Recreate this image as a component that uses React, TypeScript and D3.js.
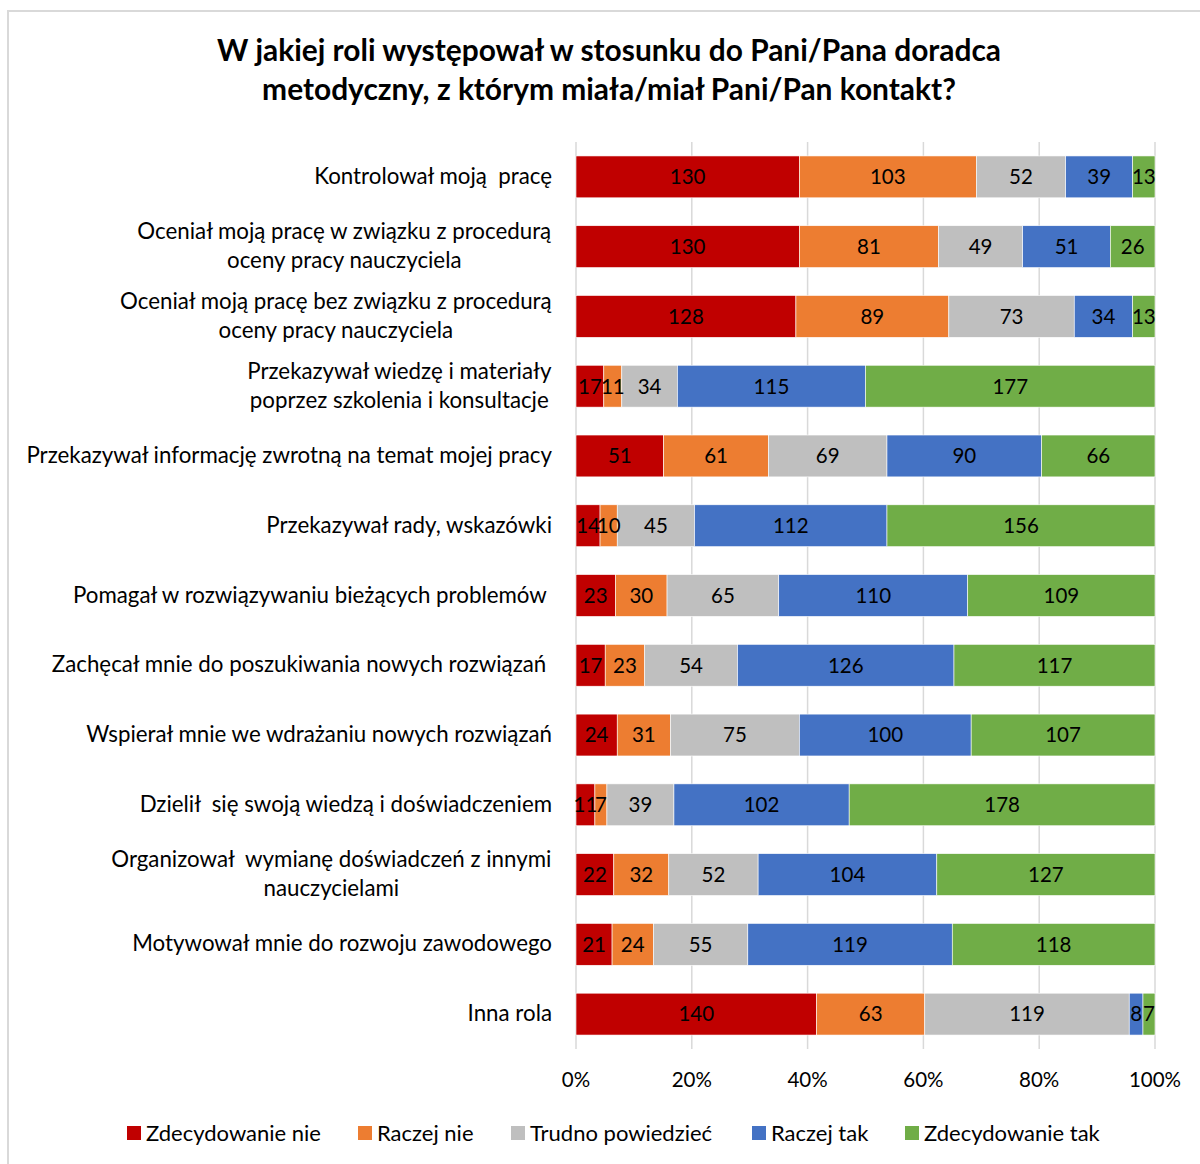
import React from "react";
import * as d3 from "d3";

const categories: string[][] = [
  ["Kontrolował moją  pracę"],
  ["Oceniał moją pracę w związku z procedurą", "oceny pracy nauczyciela"],
  ["Oceniał moją pracę bez związku z procedurą", "oceny pracy nauczyciela"],
  ["Przekazywał wiedzę i materiały", "poprzez szkolenia i konsultacje"],
  ["Przekazywał informację zwrotną na temat mojej pracy"],
  ["Przekazywał rady, wskazówki"],
  ["Pomagał w rozwiązywaniu bieżących problemów "],
  ["Zachęcał mnie do poszukiwania nowych rozwiązań "],
  ["Wspierał mnie we wdrażaniu nowych rozwiązań"],
  ["Dzielił  się swoją wiedzą i doświadczeniem"],
  ["Organizował  wymianę doświadczeń z innymi", "nauczycielami"],
  ["Motywował mnie do rozwoju zawodowego"],
  ["Inna rola"],
];

const seriesNames = ["Zdecydowanie nie", "Raczej nie", "Trudno powiedzieć", "Raczej tak", "Zdecydowanie tak"];
const seriesColors = ["#C00000", "#ED7D31", "#BFBFBF", "#4472C4", "#70AD47"];

const zdecydowanieNie = [130, 130, 128, 17, 51, 14, 23, 17, 24, 11, 22, 21, 140];
const raczejNie = [103, 81, 89, 11, 61, 10, 30, 23, 31, 7, 32, 24, 63];
const trudnoPowiedziec = [52, 49, 73, 34, 69, 45, 65, 54, 75, 39, 52, 55, 119];
const raczejTak = [39, 51, 34, 115, 90, 112, 110, 126, 100, 102, 104, 119, 8];
const zdecydowanieTak = [13, 26, 13, 177, 66, 156, 109, 117, 107, 178, 127, 118, 7];

const tickValues = [0, 0.2, 0.4, 0.6, 0.8, 1.0];
const title = [
  "W jakiej roli występował w stosunku do Pani/Pana doradca",
  "metodyczny, z którym miała/miał Pani/Pan kontakt?",
];

const FONT = "Lato, 'Open Sans', sans-serif";
const LABEL_SIZE = 22.3;

let measureCtx: CanvasRenderingContext2D | null = null;
function measure(text: string, size: number): number {
  if (!measureCtx) {
    const c = document.createElement("canvas");
    measureCtx = c.getContext("2d");
  }
  if (!measureCtx) return text.length * size * 0.5;
  measureCtx.font = `${size}px Lato`;
  return measureCtx.measureText(text).width;
}

export default function App() {
  const W = 1200;
  const H = 1164;
  const x0 = 576;
  const x1 = 1155;
  const yTop = 142;
  const yBot = 1049;
  const labelRight = 552;

  const series = [zdecydowanieNie, raczejNie, trudnoPowiedziec, raczejTak, zdecydowanieTak];
  const idx = categories.map((_, i) => i);

  const x = d3.scaleLinear().domain([0, 1]).range([x0, x1]);
  const y = d3.scaleBand<number>().domain(idx).range([yTop, yBot]).paddingInner(0.4).paddingOuter(0.2);

  const rows = idx.map((i) => {
    const vals = series.map((s) => s[i]);
    const total = d3.sum(vals);
    let acc = 0;
    return vals.map((v, k) => {
      const start = acc / total;
      acc += v;
      return { k, v, start, end: acc / total };
    });
  });

  const legendX = [127, 358, 511, 752, 905];

  return (
    <svg width={W} height={H} style={{ display: "block", position: "absolute", left: 0, top: 0 }} fontFamily={FONT}>
      <rect x={0} y={0} width={W} height={H} fill="#fff" />
      <rect x={8} y={11} width={W + 10} height={H + 10} fill="none" stroke="#d9d9d9" strokeWidth={2} />
      {title.map((t, i) => (
        <text key={i} x={609} y={61 + i * 39} textAnchor="middle" fontSize={29.9} fontWeight={700} fill="#000">
          {t}
        </text>
      ))}
      {tickValues.map((t) => (
        <line key={t} x1={x(t)} x2={x(t)} y1={yTop} y2={yBot} stroke="#d9d9d9" strokeWidth={1.5} />
      ))}
      {rows.map((segs, i) => {
        const yy = y(i)!;
        const bh = y.bandwidth();
        const lines = categories[i];
        const n = lines.length;
        const maxW = n > 1 ? Math.max(...lines.map((l) => measure(l, LABEL_SIZE))) : 0;
        const center = labelRight - maxW / 2;
        return (
          <g key={i}>
            {segs.map((s) => (
              <rect
                key={s.k}
                x={x(s.start)}
                y={yy}
                width={x(s.end) - x(s.start)}
                height={bh}
                fill={seriesColors[s.k]}
                stroke="#fff"
                strokeWidth={0.6}
              />
            ))}
            {segs.map((s) => (
              <text
                key={"t" + s.k}
                x={(x(s.start) + x(s.end)) / 2}
                y={yy + bh / 2}
                dy="0.36em"
                textAnchor="middle"
                fontSize={20.5}
                fill="#000"
              >
                {s.v}
              </text>
            ))}
            {lines.map((line, j) => {
              const cy = yy + bh / 2 + (j - (n - 1) / 2) * 29 - 1;
              return (
                <text
                  key={"c" + j}
                  x={n > 1 ? center : labelRight}
                  y={cy}
                  dy="0.36em"
                  textAnchor={n > 1 ? "middle" : "end"}
                  fontSize={LABEL_SIZE}
                  fill="#000"
                  style={{ whiteSpace: "pre" }}
                >
                  {line}
                </text>
              );
            })}
          </g>
        );
      })}
      {tickValues.map((t) => (
        <text key={"l" + t} x={x(t)} y={1080} dy="0.36em" textAnchor="middle" fontSize={20.5} fill="#000">
          {d3.format(".0%")(t)}
        </text>
      ))}
      {seriesNames.map((n, k) => (
        <g key={n}>
          <rect x={legendX[k]} y={1126} width={14} height={14} fill={seriesColors[k]} />
          <text x={legendX[k] + 19} y={1133} dy="0.36em" fontSize={22} fill="#000">
            {n}
          </text>
        </g>
      ))}
    </svg>
  );
}
